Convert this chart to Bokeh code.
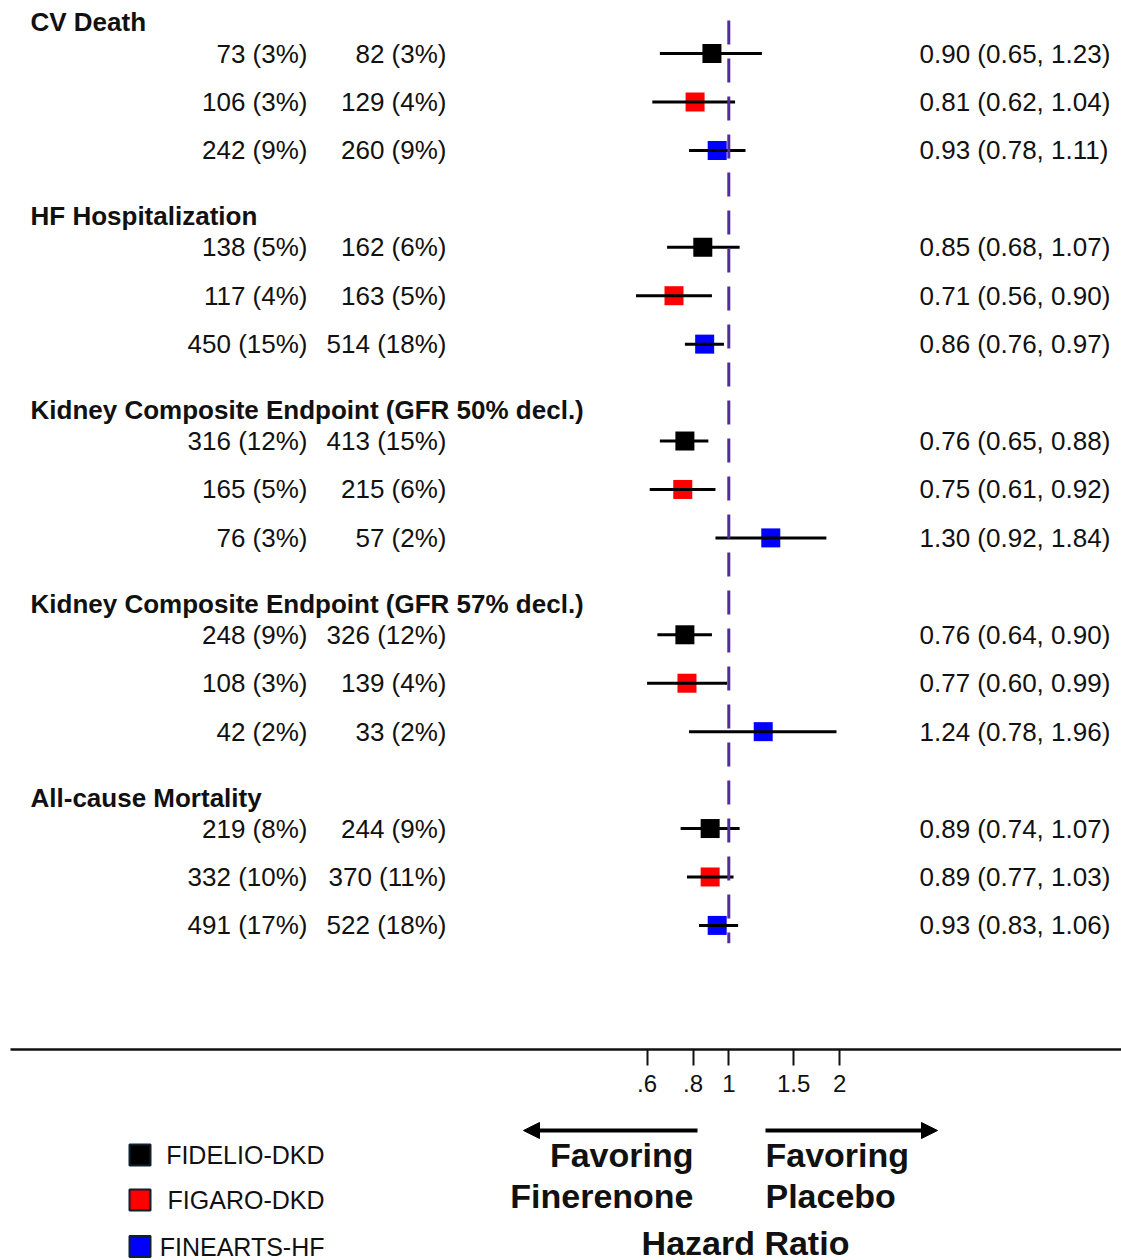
import math
from bokeh.plotting import figure
from bokeh.models import Range1d, FixedTicker, ColumnDataSource, Arrow, NormalHead, LinearScale
from bokeh.layouts import column
from bokeh.embed import file_html
from bokeh.resources import INLINE
from bokeh.core.properties import value

# ---------------- data ----------------
outcomes = ["CV Death", "HF Hospitalization",
            "Kidney Composite Endpoint (GFR 50% decl.)",
            "Kidney Composite Endpoint (GFR 57% decl.)",
            "All-cause Mortality"]
trials = ["FIDELIO-DKD", "FIGARO-DKD", "FINEARTS-HF"]
trial_colors = ["#000000", "#ff0000", "#0000ff"]

finerenone_events = ["73 (3%)", "106 (3%)", "242 (9%)",
                     "138 (5%)", "117 (4%)", "450 (15%)",
                     "316 (12%)", "165 (5%)", "76 (3%)",
                     "248 (9%)", "108 (3%)", "42 (2%)",
                     "219 (8%)", "332 (10%)", "491 (17%)"]
placebo_events = ["82 (3%)", "129 (4%)", "260 (9%)",
                  "162 (6%)", "163 (5%)", "514 (18%)",
                  "413 (15%)", "215 (6%)", "57 (2%)",
                  "326 (12%)", "139 (4%)", "33 (2%)",
                  "244 (9%)", "370 (11%)", "522 (18%)"]
hazard_ratio = [0.90, 0.81, 0.93, 0.85, 0.71, 0.86, 0.76, 0.75, 1.30,
                0.76, 0.77, 1.24, 0.89, 0.89, 0.93]
ci_low = [0.65, 0.62, 0.78, 0.68, 0.56, 0.76, 0.65, 0.61, 0.92,
          0.64, 0.60, 0.78, 0.74, 0.77, 0.83]
ci_high = [1.23, 1.04, 1.11, 1.07, 0.90, 0.97, 0.88, 0.92, 1.84,
           0.90, 0.99, 1.96, 1.07, 1.03, 1.06]
tick_values = [0.6, 0.8, 1, 1.5, 2]
tick_labels = [".6", ".8", "1", "1.5", "2"]

# ---------------- layout constants ----------------
FONT = "Liberation Sans"
W = 1121
FRAME_LEFT = 10
FRAME_RIGHT = 1121
PX_PER_LN = 160.0     # pixels per natural-log unit
X_ONE = 728.3         # x of HR = 1
ROW0 = 53.0           # y of first row centre
ROW_H = 48.44         # pixels per row
FRAME_TOP = 0
FRAME_BOTTOM = 1049
BORDER_BOTTOM = 60
H_A = FRAME_BOTTOM - FRAME_TOP + BORDER_BOTTOM
TOTAL_H = 1260
GROUP_STEP = 4
HEADER_OFFSET = -0.64

x_lo = math.exp((FRAME_LEFT - X_ONE) / PX_PER_LN)
x_hi = math.exp((FRAME_RIGHT - X_ONE) / PX_PER_LN)
y_top = (FRAME_TOP - ROW0) / ROW_H
y_bot = (FRAME_BOTTOM - ROW0) / ROW_H

n_trials = len(trials)
row_y = [GROUP_STEP * (i // n_trials) + (i % n_trials) for i in range(len(hazard_ratio))]
row_color = [trial_colors[i % n_trials] for i in range(len(hazard_ratio))]
hr_text = ["%.2f (%.2f, %.2f)" % (h, l, u) for h, l, u in zip(hazard_ratio, ci_low, ci_high)]
header_y = [GROUP_STEP * g + HEADER_OFFSET for g in range(len(outcomes))]

src = ColumnDataSource(dict(y=row_y, hr=hazard_ratio, lo=ci_low, hi=ci_high,
                            color=row_color, fin=finerenone_events,
                            pla=placebo_events, hrt=hr_text))

# ---------------- main forest plot ----------------
pa = figure(width=W, height=H_A, x_axis_type="log",
            x_range=Range1d(x_lo, x_hi), y_range=Range1d(y_bot, y_top),
            output_backend="svg", toolbar_location=None,
            y_axis_location=None, min_border_left=FRAME_LEFT,
            min_border_right=W - FRAME_RIGHT,
            min_border_top=FRAME_TOP, min_border_bottom=BORDER_BOTTOM)
pa.extra_x_ranges = {"px": Range1d(FRAME_LEFT, FRAME_RIGHT)}
pa.extra_x_scales = {"px": LinearScale()}
pa.grid.visible = False
pa.outline_line_color = None

ax = pa.xaxis[0]
ax.ticker = FixedTicker(ticks=tick_values, minor_ticks=[])
ax.major_label_overrides = {v: t for v, t in zip(tick_values, tick_labels)}
ax.axis_line_width = 2.5
ax.axis_line_color = "#111111"
ax.major_tick_out = 16
ax.major_tick_in = 0
ax.major_tick_line_width = 2
ax.major_tick_line_color = "#111111"
ax.minor_tick_out = 0
ax.minor_tick_in = 0
ax.major_label_text_font = FONT
ax.major_label_text_font_size = "24px"
ax.major_label_text_color = "#111111"
ax.major_label_standoff = 9

# squares
pa.scatter(x="hr", y="y", marker="square", size=19, fill_color="color",
           line_color=None, source=src)
# confidence intervals
pa.segment(x0="lo", y0="y", x1="hi", y1="y", line_width=3,
           line_color="#000000", source=src)
# reference line at HR = 1
pa.segment(x0=[1], y0=[HEADER_OFFSET - 0.04], x1=[1], y1=[row_y[-1] + 0.37],
           line_width=3, line_color="#4f2d9a", line_dash="24 14")

txt = dict(x_range_name="px", text_font=value(FONT), text_font_size="26px",
           text_color="#111111", text_baseline="middle")
pa.text(x=[30] * len(outcomes), y=header_y, text=outcomes, text_align="left",
        text_font_style="bold", **txt)
pa.text(x=307, y="y", text="fin", text_align="right", source=src, **txt)
pa.text(x=446, y="y", text="pla", text_align="right", source=src, **txt)
pa.text(x=919, y="y", text="hrt", text_align="left", source=src, **txt)

# ---------------- bottom annotation panel ----------------
B_TOP = H_A
B_BOTTOM = TOTAL_H
pb = figure(width=W, height=B_BOTTOM - B_TOP,
            x_range=Range1d(FRAME_LEFT, FRAME_RIGHT), y_range=Range1d(B_BOTTOM, B_TOP),
            output_backend="svg", toolbar_location=None,
            x_axis_location=None, y_axis_location=None,
            min_border_left=FRAME_LEFT, min_border_right=W - FRAME_RIGHT,
            min_border_top=0, min_border_bottom=0)
pb.grid.visible = False
pb.outline_line_color = None

pb.add_layout(Arrow(end=NormalHead(size=16, fill_color="#000000", line_color="#000000"),
                    x_start=697, y_start=1130, x_end=523, y_end=1130,
                    line_width=4, line_color="#000000"))
pb.add_layout(Arrow(end=NormalHead(size=16, fill_color="#000000", line_color="#000000"),
                    x_start=765, y_start=1130, x_end=937, y_end=1130,
                    line_width=4, line_color="#000000"))

big = dict(text_font=value(FONT), text_font_size="34px", text_font_style="bold",
           text_color="#111111", text_baseline="middle")
pb.text(x=[693, 693], y=[1154, 1195.5], text=["Favoring", "Finerenone"], text_align="right", **big)
pb.text(x=[765, 765], y=[1154, 1195.5], text=["Favoring", "Placebo"], text_align="left", **big)
pb.text(x=[745], y=[1242], text=["Hazard Ratio"], text_align="center", **big)

leg_y = [1154.5, 1199.5, 1246]
pb.scatter(x=[139.5] * n_trials, y=leg_y, marker="square", size=21,
           fill_color=trial_colors, line_color="#10202e", line_width=2)
pb.text(x=[324] * n_trials, y=leg_y, text=trials, text_align="right",
        text_baseline="middle", text_font=value(FONT), text_font_size="25px",
        text_color="#111111")

layout = column(pa, pb, spacing=0)
open("out.html", "w").write(file_html(layout, INLINE))
